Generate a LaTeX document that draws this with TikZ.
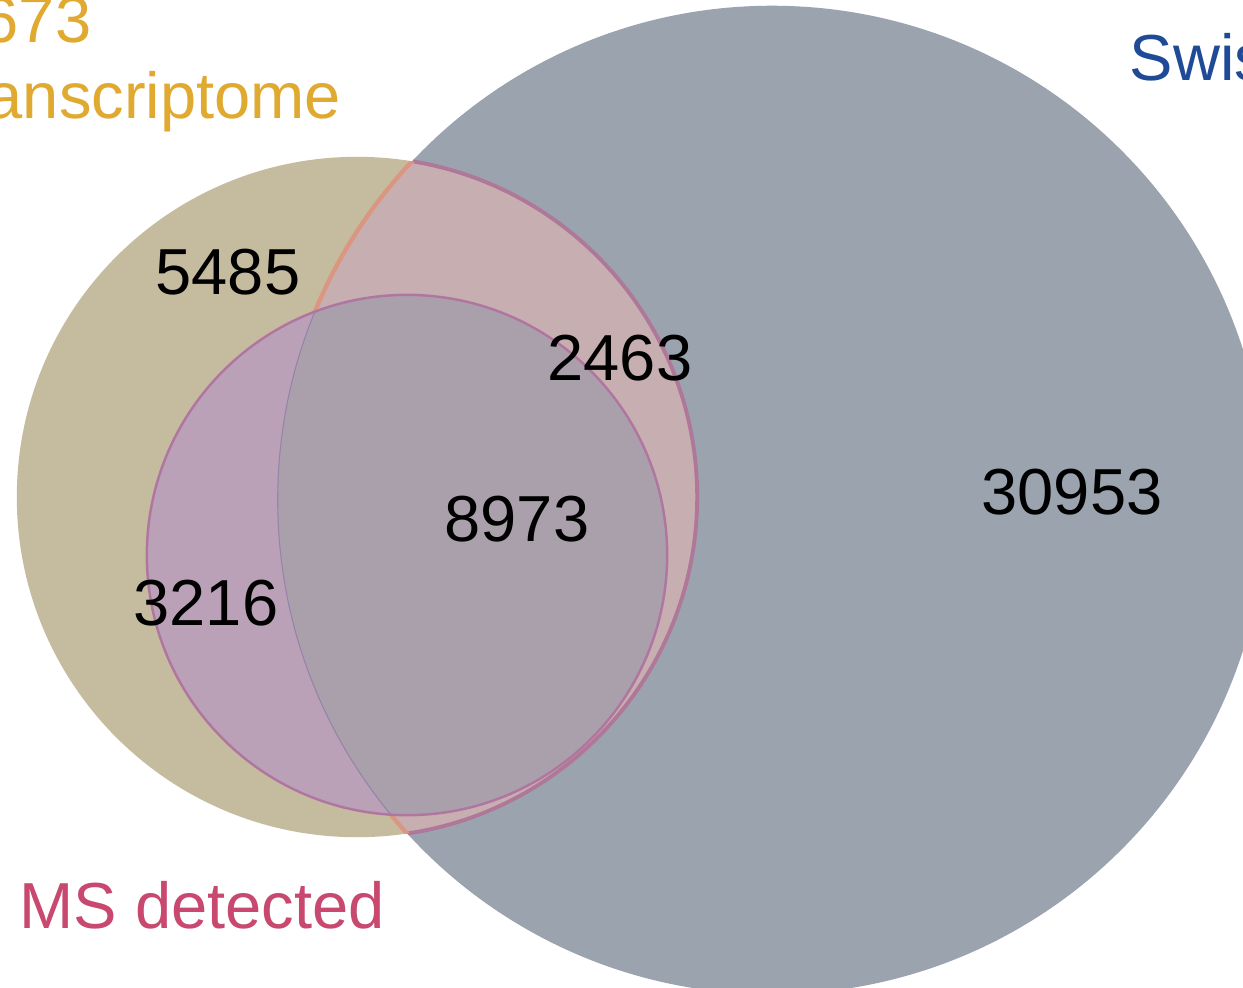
\documentclass[tikz,border=0pt]{standalone}
\usepackage{fontspec}
\setmainfont{Liberation Sans}
\usepackage{xcolor}
\definecolor{spfill}{RGB}{155,163,175}
\definecolor{trfill}{RGB}{197,187,158}
\definecolor{trsp}{RGB}{199,174,177}
\definecolor{msfill}{RGB}{186,161,184}
\definecolor{mssp}{RGB}{170,160,172}
\definecolor{trgold}{RGB}{224,170,48}
\definecolor{spblue}{RGB}{30,74,150}
\definecolor{msred}{RGB}{200,72,112}
\tikzset{numlabel/.style={font=\fontsize{18.5}{22}\selectfont, inner sep=0pt, black},
  setlabel/.style={font=\fontsize{18.5}{22}\selectfont, inner sep=0pt}}

\begin{document}
\begin{tikzpicture}[x=0.01cm, y=-0.01cm]
        \useasboundingbox (0,0) rectangle (1243,987);
        \clip (0,0) rectangle (1243,987);
        \fill[white] (0,0) rectangle (1243,987);
        \coordinate (sp) at (772,500);
        \coordinate (tr) at (357,497);
        \coordinate (ms) at (407,555);
        % Swiss-Prot and transcriptome
        \fill[spfill] (sp) circle (4.94cm);
        \fill[trfill] (tr) circle (3.40cm);
        \begin{scope}
        \clip (sp) circle (4.94cm);
        \fill[trsp] (tr) circle (3.40cm);
        \draw[color={rgb,255:red,176;green,120;blue,152}, line width = 1.1pt] (tr) circle (3.40cm);
        \end{scope}
        \begin{scope}
        \clip (tr) circle (3.40cm);
        \draw[color={rgb,255:red,218;green,150;blue,128}, line width = 1.2pt] (sp) circle (4.94cm);
        \end{scope}
        % MS detected
        \fill[msfill] (ms) circle (2.60cm);
        \begin{scope}
        \clip (sp) circle (4.94cm);
        \fill[mssp] (ms) circle (2.60cm);
        \end{scope}
        \begin{scope}
        \clip (ms) circle (2.60cm);
        \draw[color={rgb,255:red,150;green,130;blue,170}, line width = .3pt] (sp) circle (4.94cm);
        \end{scope}
        \draw[color={rgb,255:red,176;green,118;blue,160}, line width = .7pt] (ms) circle (2.60cm);
        % counts
        \node[numlabel] (nT) at (228,272) {5485};
        \node[numlabel] (nTS) at (620,358) {2463};
        \node[numlabel] (nTMS) at (517,519) {8973};
        \node[numlabel] (nTM) at (206,603) {3216};
        \node[numlabel] (nS) at (1072,492) {30953};
        % set names
        \node[setlabel, text=trgold, anchor=base east] (trnum) at (92,42) {673};
        \node[setlabel, text=trgold, anchor=base west] (trname) at (-14,118) {anscriptome};
        \node[setlabel, text=spblue, anchor=base west] (spname) at (1129,80) {Swis};
        \node[setlabel, text=msred, anchor=base west] (msname) at (19,928) {MS detected};
\end{tikzpicture}
\end{document}
